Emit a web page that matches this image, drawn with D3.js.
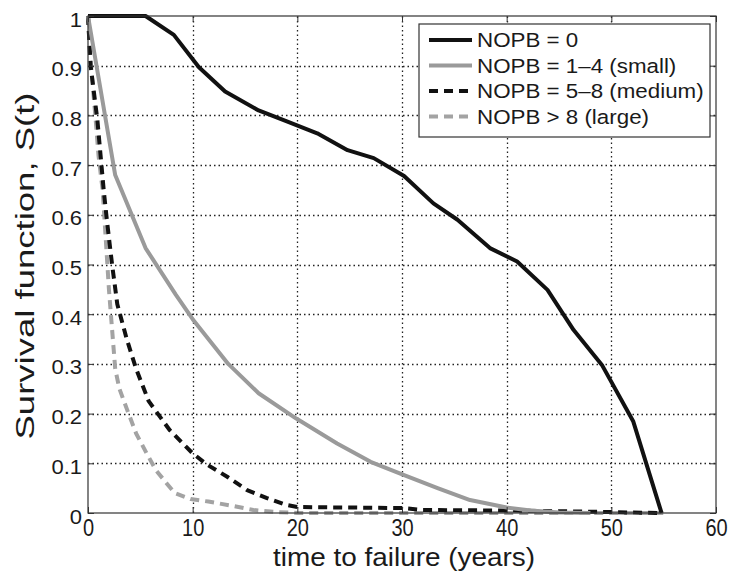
<!DOCTYPE html>
<html>
<head>
<meta charset="utf-8">
<script src="https://cdn.jsdelivr.net/npm/d3@7"></script>
<style>
    body { margin: 0; background: #fff; }
    svg { font-family: "Liberation Sans", Arial, Helvetica, sans-serif; }
</style>
</head>
<body>
<div id="chart"></div>
<script>
// Tick values
const xTicks = [0, 10, 20, 30, 40, 50, 60];
const yTicks = [0, 0.1, 0.2, 0.3, 0.4, 0.5, 0.6, 0.7, 0.8, 0.9, 1];

// Legend labels
const seriesNames = ["NOPB = 0", "NOPB = 1–4 (small)", "NOPB = 5–8 (medium)", "NOPB > 8 (large)"];

// [time to failure (years), S(t)]
const nopbNone = [
    [0, 1], [5.5, 1], [8.2, 0.962], [10.6, 0.897], [13.1, 0.848], [16.3, 0.81],
    [19, 0.788], [21.9, 0.764], [24.8, 0.73], [27.3, 0.714], [30.2, 0.678],
    [33, 0.623], [35.3, 0.59], [38.4, 0.533], [41, 0.506], [43.9, 0.449],
    [46.4, 0.368], [49.1, 0.298], [52.1, 0.184], [54.8, 0]
];
const nopbSmall = [
    [0, 1], [2.6, 0.68], [5.5, 0.533], [8.4, 0.439], [10, 0.39], [13.4, 0.3],
    [16.3, 0.241], [19.9, 0.19], [23.8, 0.14], [27, 0.103], [30.2, 0.076],
    [33.4, 0.05], [36.5, 0.026], [40, 0.011], [42.3, 0.005], [45, 0.001], [48, 0]
];
const nopbMedium = [
    [0, 1], [0.25, 0.9], [0.9, 0.79], [1.5, 0.65], [1.8, 0.59], [2.3, 0.5],
    [2.8, 0.42], [3.7, 0.35], [4.6, 0.29], [5.8, 0.225], [7.8, 0.167], [10, 0.12],
    [11.4, 0.097], [13.3, 0.073], [15.2, 0.046], [17.1, 0.03], [19, 0.016],
    [20, 0.012], [25, 0.011], [30, 0.01], [32, 0.006], [40, 0.005], [47, 0.003], [54.7, 0]
];
const nopbLarge = [
    [0, 1], [0.2, 0.92], [0.7, 0.8], [1, 0.72], [1.4, 0.65], [1.7, 0.55], [2, 0.45],
    [2.3, 0.37], [2.6, 0.29], [3, 0.25], [3.7, 0.21], [4.6, 0.16], [5.6, 0.12],
    [6.5, 0.086], [7.5, 0.06], [8.3, 0.04], [9.8, 0.028], [11.5, 0.023],
    [13.9, 0.014], [15.8, 0.006], [18, 0.002], [20, 0], [55, 0]
];

const series = [
    { name: seriesNames[0], values: nopbNone, color: "#111", dash: null },
    { name: seriesNames[1], values: nopbSmall, color: "#9a9a9a", dash: null },
    { name: seriesNames[2], values: nopbMedium, color: "#111", dash: "9,6" },
    { name: seriesNames[3], values: nopbLarge, color: "#a3a3a3", dash: "9,6" }
];

const width = 730;
const height = 577;
const margin = { top: 16, right: 14, bottom: 64, left: 88 };

const svg = d3.select("#chart").append("svg")
    .attr("width", width)
    .attr("height", height);

const x = d3.scaleLinear().domain([0, 60]).range([margin.left, width - margin.right]);
const y = d3.scaleLinear().domain([0, 1]).range([height - margin.bottom, margin.top]);

// stretch text horizontally (the source figure is a bit wide)
function stretch(sel, k) {
    sel.each(function () {
        const w = this.getComputedTextLength();
        d3.select(this).attr("textLength", w * k).attr("lengthAdjust", "spacingAndGlyphs");
    });
}

// grid (MATLAB-like dotted)
const grid = svg.append("g")
    .attr("stroke", "#222")
    .attr("stroke-width", 1.3)
    .attr("stroke-dasharray", "1.5,3");
grid.selectAll("line.v")
    .data(xTicks.slice(1, -1))
    .join("line")
    .attr("class", "v")
    .attr("x1", d => Math.round(x(d)) + 0.5).attr("x2", d => Math.round(x(d)) + 0.5)
    .attr("y1", y(0)).attr("y2", y(1));
grid.selectAll("line.h")
    .data(yTicks.slice(1, -1))
    .join("line")
    .attr("class", "h")
    .attr("y1", d => Math.round(y(d)) + 0.5).attr("y2", d => Math.round(y(d)) + 0.5)
    .attr("x1", x(0)).attr("x2", x(60));

// curves
const line = d3.line()
    .x(d => x(d[0]))
    .y(d => y(d[1]));

svg.append("g")
    .selectAll("path")
    .data(series.slice().reverse())
    .join("path")
    .attr("fill", "none")
    .attr("stroke", d => d.color)
    .attr("stroke-width", 4)
    .attr("stroke-dasharray", d => d.dash)
    .attr("stroke-linejoin", "round")
    .attr("d", d => line(d.values));

// axes with inward ticks on all four sides
const xAxis = svg.append("g")
    .attr("transform", `translate(0,${y(0)})`)
    .call(d3.axisBottom(x).tickValues(xTicks).tickSizeInner(-6).tickSizeOuter(0));
xAxis.select(".domain").remove();
xAxis.selectAll("line").attr("stroke", "#333");
xAxis.selectAll("text")
    .attr("fill", "#1a1a1a")
    .attr("font-size", 20)
    .attr("dy", null)
    .attr("y", 0)
    .attr("transform", "translate(0,23) scale(1,1.15)");

svg.append("g")
    .attr("transform", `translate(0,${y(1)})`)
    .call(d3.axisTop(x).tickValues(xTicks).tickSizeInner(-6).tickSizeOuter(0).tickFormat(""))
    .call(g => g.select(".domain").remove())
    .selectAll("line").attr("stroke", "#333");

const yAxis = svg.append("g")
    .attr("transform", `translate(${x(0)},0)`)
    .call(d3.axisLeft(y).tickValues(yTicks).tickSizeInner(-6).tickSizeOuter(0).tickPadding(6).tickFormat(d3.format("~g")));
yAxis.select(".domain").remove();
yAxis.selectAll("line").attr("stroke", "#333");
yAxis.selectAll("text")
    .attr("fill", "#1a1a1a")
    .attr("font-size", 20)
    .attr("dy", "0.5em")
    .call(stretch, 1.1);

svg.append("g")
    .attr("transform", `translate(${x(60)},0)`)
    .call(d3.axisRight(y).tickValues(yTicks).tickSizeInner(-6).tickSizeOuter(0).tickFormat(""))
    .call(g => g.select(".domain").remove())
    .selectAll("line").attr("stroke", "#333");

// frame
svg.append("rect")
    .attr("x", x(0)).attr("y", y(1))
    .attr("width", x(60) - x(0)).attr("height", y(0) - y(1))
    .attr("fill", "none")
    .attr("stroke", "#333")
    .attr("stroke-width", 1.2);

// axis titles
svg.append("text")
    .attr("x", (x(0) + x(60)) / 2 + 2)
    .attr("y", 566)
    .attr("text-anchor", "middle")
    .attr("font-size", 26)
    .attr("fill", "#1a1a1a")
    .text("time to failure (years)")
    .attr("textLength", 262)
    .attr("lengthAdjust", "spacingAndGlyphs");

svg.append("text")
    .attr("transform", "translate(34,266) rotate(-90)")
    .attr("text-anchor", "middle")
    .attr("font-size", 26)
    .attr("fill", "#1a1a1a")
    .text("Survival function, S(t)")
    .attr("textLength", 347)
    .attr("lengthAdjust", "spacingAndGlyphs");

// legend
const legend = svg.append("g").attr("transform", "translate(419,24)");
legend.append("rect")
    .attr("width", 291).attr("height", 113)
    .attr("fill", "#fff")
    .attr("stroke", "#333")
    .attr("stroke-width", 1.2);

const rows = legend.selectAll("g.row")
    .data(series)
    .join("g")
    .attr("class", "row")
    .attr("transform", (d, i) => `translate(0,${16 + i * 25.5})`);
rows.append("line")
    .attr("x1", 10).attr("x2", 53)
    .attr("stroke", d => d.color)
    .attr("stroke-width", 4)
    .attr("stroke-dasharray", d => d.dash);
rows.append("text")
    .attr("x", 58)
    .attr("dy", "0.36em")
    .attr("font-size", 20.5)
    .attr("fill", "#1a1a1a")
    .text(d => d.name)
    .call(stretch, 1.09);
</script>
</body>
</html>
